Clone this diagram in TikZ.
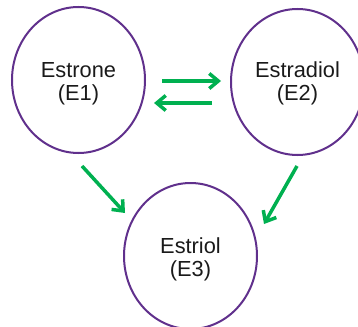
\documentclass[tikz,border=0pt]{standalone}
\usepackage{fontspec}
\setmainfont{Liberation Sans}
\usetikzlibrary{shapes.geometric,arrows.meta,calc}
\definecolor{ringpurple}{RGB}{96,48,140}
\definecolor{arrowgreen}{RGB}{0,176,80}
\definecolor{labeltext}{RGB}{26,26,26}
\begin{document}
\begin{tikzpicture}[x=1pt,y=-1pt,
  hormone/.style={ellipse,draw=ringpurple,line width=2pt,minimum width=133pt,minimum height=146pt,inner sep=0pt},
  hlabel/.style={inner sep=0pt,align=center,text=labeltext,font=\fontsize{21.8}{23}\selectfont},
  arr/.style={draw=arrowgreen,line width=3.5pt,-{Straight Barb[length=9pt,width=15pt]}}]
\useasboundingbox (0,0) rectangle (358,326);
\clip (0,0) rectangle (358,326);
\node[hormone] (e1) at (78.5,80) {};
\node[hormone] (e2) at (297.5,82) {};
\node[hormone] (e3) at (190.5,256) {};
\node[hlabel] (t1) at ([yshift=-3.5pt]e1.center) {Estrone\\(E1)};
\node[hlabel] (t2) at ([yshift=-1.5pt]e2.center) {Estradiol\\(E2)};
\node[hlabel] (t3) at ([yshift=-3.2pt]e3.center) {Estriol\\(E3)};
\draw[arr] ([shift={(16,1)}]e1.east) -- ([shift={(-9,-1)}]e2.west);
\draw[arr] ([shift={(-18,21)}]e2.west) -- ([shift={(8,23)}]e1.east);
\draw[arr] ([shift={(3.5,12)}]e1.south) -- ([shift={(-65.5,-43)}]e3.center);
\draw[arr] ([shift={(-0.5,10)}]e2.south) -- ([shift={(73.5,-32)}]e3.center);
\end{tikzpicture}
\end{document}
